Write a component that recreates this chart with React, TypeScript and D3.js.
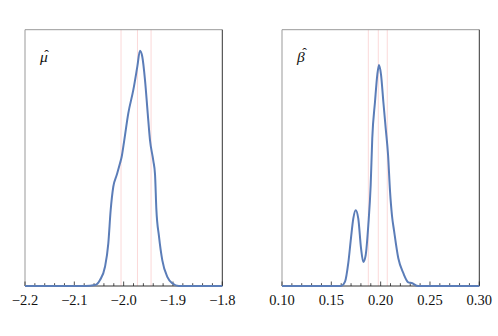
import React, { useEffect, useRef } from 'react';
import * as d3 from 'd3';

// posterior density of mu (x value, density)
const muX = [-2.2, -2.078, -2.058, -2.048, -2.0378, -2.0311, -2.0263, -2.021, -2.0141, -2.0074, -2.004, -1.9987,
    -1.9906, -1.9804, -1.9723, -1.9669, -1.9622, -1.9567, -1.9512, -1.9466, -1.9399, -1.9364, -1.9337, -1.9283,
    -1.9216, -1.9115, -1.9013, -1.888, -1.8];
const muY = [0, 0, 0.05, 0.33, 1.05, 2.33, 4.15, 5.42, 6.06, 6.7, 7.06, 7.97,
    9.43, 10.71, 11.98, 12.85, 12.52, 11.25, 9.43, 7.97, 6.85, 6.1, 4.2, 2.7,
    1.4, 0.5, 0.15, 0, 0];
const muLines = [-2.0053, -1.972, -1.9444];

// posterior density of beta
const betaX = [0.10, 0.158, 0.1605, 0.1639, 0.1672, 0.1699, 0.1723, 0.1747, 0.1773, 0.1801, 0.1824, 0.1848,
    0.1875, 0.1899, 0.1915, 0.1943, 0.1966, 0.1983, 0.2004, 0.2027, 0.2051, 0.2075, 0.2095, 0.2115,
    0.2135, 0.2179, 0.223, 0.228, 0.2321, 0.2365, 0.24, 0.30];
const betaY = [0, 0, 0.06, 0.84, 4.5, 9.3, 13.2, 14.8, 13.2, 7.4, 4.7, 6.0,
    11.9, 19.7, 28.8, 36.0, 41.2, 43.1, 41.2, 36.0, 30.8, 25.6, 18.5, 13.7,
    10.9, 5.4, 2.5, 0.72, 0.53, 0.06, 0, 0];
const betaLines = [0.1875, 0.1976, 0.2067];

const panels = [
    { label: 'μ', hat: [21.5, 59.5], xs: muX, ys: muY, lines: muLines, domain: [-2.2, -1.8], yMax: 14.0,
      minor: 0.02, major: [-2.2, -2.1, -2.0, -1.9, -1.8], fmt: (v: number) => d3.format('.1f')(v).replace('-', '\u2212\u2009') },
    { label: 'β', hat: [22.5, 57.5], xs: betaX, ys: betaY, lines: betaLines, domain: [0.10, 0.30], yMax: 50,
      minor: 0.01, major: [0.10, 0.15, 0.20, 0.25, 0.30], fmt: (v: number) => d3.format('.2f')(v) },
];

const App = () => {
    const node = useRef<SVGSVGElement>(null);

    useEffect(() => {
        const svg = d3.select(node.current);
        svg.selectAll('*').remove();

        const top = 29.7, bottom = 286;
        const lefts = [25, 282];
        const width = 197.3;

        panels.forEach((p, i) => {
            const x0 = lefts[i];
            const x = d3.scaleLinear().domain(p.domain).range([x0, x0 + width]);
            const y = d3.scaleLinear().domain([0, p.yMax]).range([bottom, top]);
            const g = svg.append('g');

            // pink reference lines
            g.selectAll('.ref').data(p.lines).enter().append('line')
                .attr('x1', (d) => x(d)).attr('x2', (d) => x(d))
                .attr('y1', top).attr('y2', bottom)
                .attr('stroke', '#fbd9d9').attr('stroke-width', 1);

            // frame
            g.append('line').attr('x1', x0).attr('x2', x0 + width).attr('y1', top).attr('y2', top)
                .attr('stroke', '#999').attr('stroke-width', 1);
            g.append('line').attr('x1', x0).attr('x2', x0).attr('y1', top).attr('y2', bottom)
                .attr('stroke', '#999').attr('stroke-width', 1);
            g.append('line').attr('x1', x0 + width).attr('x2', x0 + width).attr('y1', top).attr('y2', bottom)
                .attr('stroke', '#333').attr('stroke-width', 1);
            g.append('line').attr('x1', x0).attr('x2', x0 + width).attr('y1', bottom).attr('y2', bottom)
                .attr('stroke', '#333').attr('stroke-width', 1);

            // ticks
            const n = Math.round((p.domain[1] - p.domain[0]) / p.minor);
            const minor = d3.range(n + 1).map((k) => p.domain[0] + k * p.minor);
            g.selectAll('.tick').data(minor).enter().append('line')
                .attr('x1', (d) => x(d)).attr('x2', (d) => x(d))
                .attr('y1', bottom).attr('y2', (d) => bottom - (p.major.some((m) => Math.abs(m - d) < 1e-9) ? 4.5 : 2.8))
                .attr('stroke', '#222').attr('stroke-width', 0.8);

            g.selectAll('.lab').data(p.major).enter().append('text')
                .attr('x', (d) => x(d)).attr('y', 305)
                .attr('text-anchor', 'middle')
                .attr('font-family', 'Liberation Serif')
                .attr('font-size', 14.5)
                .attr('fill', '#111')
                .text((d) => p.fmt(d));

            // density curve
            const line = d3.line<number>()
                .x((d, k) => x(p.xs[k]))
                .y((d) => y(d))
                .curve(d3.curveMonotoneX);
            g.append('path').datum(p.ys)
                .attr('d', line)
                .attr('fill', 'none')
                .attr('stroke', '#5b7db8')
                .attr('stroke-width', 2);

            // label with hat
            g.append('text')
                .attr('x', x0 + 15).attr('y', 62)
                .attr('font-family', 'Liberation Serif')
                .attr('font-style', 'italic')
                .attr('font-size', 15.5)
                .attr('fill', '#111')
                .text(p.label);
            g.append('text')
                .attr('x', x0 + p.hat[0]).attr('y', p.hat[1])
                .attr('text-anchor', 'middle')
                .attr('font-family', 'Liberation Serif')
                .attr('font-size', 14)
                .attr('fill', '#111')
                .text('\u02C6');
        });
    }, []);

    return (
        <svg ref={node} width={498} height={336}
            style={{ position: 'absolute', left: 0, top: 0, background: '#fff' }}>
        </svg>
    );
};

export default App;
